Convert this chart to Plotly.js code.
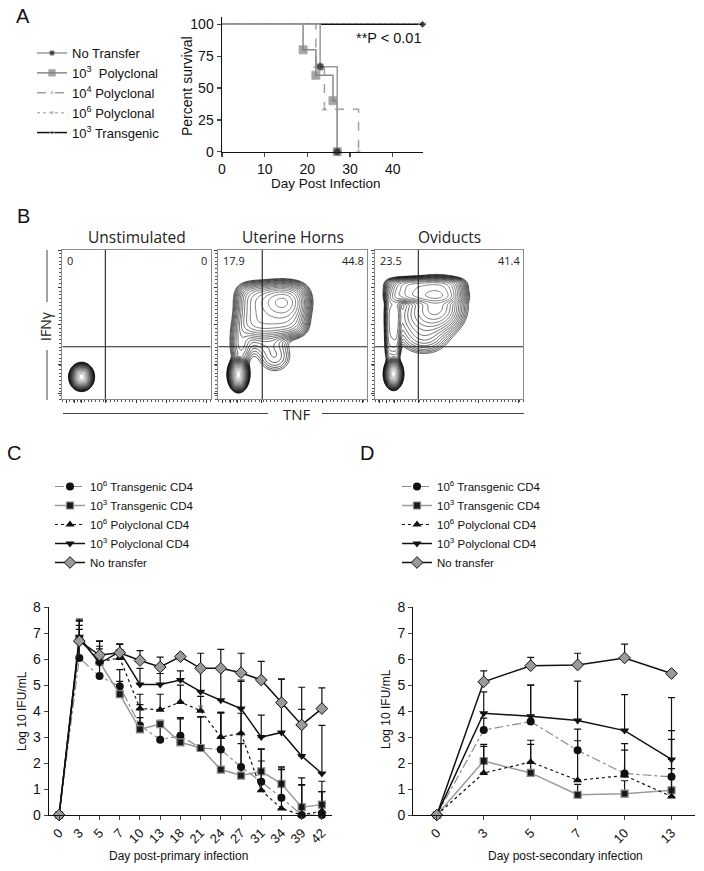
<!DOCTYPE html>
<html>
<head>
<meta charset="utf-8">
<script src="https://cdn.plot.ly/plotly-3.0.1.min.js"></script>
<style>html,body{margin:0;padding:0;background:#fff;}#chart{width:704px;height:871px;}</style>
</head>
<body>
<div id="chart"></div>
<script>
// ---------------- Panel A: survival ----------------
const survNoTransferDay = [0, 23, 27];
const survNoTransferPct = [100, 66.7, 0];
const survPoly3Day = [0, 19, 22, 26, 27];
const survPoly3Pct = [100, 80, 60, 40, 0];
const survPoly4Day = [0, 22, 24, 32];
const survPoly4Pct = [100, 66.7, 33.3, 0];
const survPoly6Day = [0, 47];
const survPoly6Pct = [100, 100];
const survTrans3Day = [0, 47];
const survTrans3Pct = [100, 100];
const survTicksX = [0, 10, 20, 30, 40];
const survTicksY = [0, 25, 50, 75, 100];

// ---------------- Panel B: flow cytometry ----------------
const flowTitles = ["Unstimulated", "Uterine Horns", "Oviducts"];
const flowQuadUL = ["0", "17.9", "23.5"];
const flowQuadUR = ["0", "44.8", "41.4"];
const flowQuadLL = ["100", "33.5", "33.1"];
const flowQuadLR = ["0", "3.71", "1.99"];
const flowGateX = [0.29, 0.295, 0.292];
const flowGateY = 0.352;
// density components: [centerX, centerY, sdX, sdY, weight, shapePower] on 0..1 axes
const flowUnstim = [[0.13, 0.15, 0.025, 0.028, 1.0, 2]];
const flowUterine = [
  [0.135, 0.165, 0.022, 0.035, 1.0, 2],
  [0.36, 0.6, 0.17, 0.13, 0.03, 4],
  [0.43, 0.65, 0.08, 0.06, 0.03, 2],
  [0.15, 0.36, 0.04, 0.1, 0.008, 2],
  [0.3, 0.42, 0.1, 0.07, 0.006, 2],
  [0.38, 0.28, 0.07, 0.065, 0.005, 2]
];
const flowOviduct = [
  [0.125, 0.17, 0.02, 0.032, 1.0, 2],
  [0.34, 0.73, 0.18, 0.06, 0.04, 4],
  [0.12, 0.5, 0.04, 0.19, 0.012, 4],
  [0.42, 0.62, 0.09, 0.09, 0.03, 2],
  [0.28, 0.55, 0.1, 0.1, 0.01, 2],
  [0.34, 0.4, 0.09, 0.06, 0.005, 2]
];

// ---------------- Panel C: primary infection ----------------
const dayPrimary = ["0","3","5","7","10","13","18","21","24","27","31","34","39","42"];
const c_trans6 = [0, 6.05, 5.35, 4.95, 3.45, 2.9, 3.05, 2.58, 2.52, 1.85, 1.28, 0.66, 0, 0];
const c_trans6Err = [0, 1.1, 0.9, 0.65, 0.8, 0.7, 0.7, 1.2, 1.4, 0.9, 0.8, 1.15, 1.17, 0.9];
const c_trans3 = [0, 6.75, 5.9, 4.65, 3.3, 3.5, 2.8, 2.58, 1.75, 1.52, 1.68, 1.2, 0.3, 0.4];
const c_trans3Err = [0, 0.75, 0.5, 0.5, 0.45, 0.15, 0.9, 1.2, 2.2, 2.4, 0.85, 0.65, 1.13, 0.9];
const c_poly6 = [0, 6.8, 5.9, 6.05, 4.1, 4.05, 4.35, 4.02, 3.0, 3.15, 0.95, 0.25, 0, 0.15];
const c_poly6Err = [0, 0.5, 0.6, 0.3, 0.55, 0.6, 0.65, 0.55, 0.95, 2.0, 1.6, 1.5, 1.15, 0.75];
const c_poly3 = [0, 6.87, 5.84, 6.29, 5.03, 5.03, 5.2, 4.75, 4.42, 4.1, 3.0, 3.18, 2.27, 1.6];
const c_poly3Err = [0, 0.6, 0.85, 0.3, 0.62, 0.42, 0.35, 0.95, 1.2, 1.1, 0.85, 2.05, 1.8, 1.85];
const c_noTrans = [0, 6.7, 6.16, 6.25, 5.95, 5.7, 6.1, 5.65, 5.65, 5.48, 5.2, 4.33, 3.47, 4.1];
const c_noTransErr = [0, 0.85, 0.55, 0.32, 0.38, 0.38, 0.12, 0.58, 0.73, 0.75, 0.72, 0.9, 1.45, 0.8];
const sigDay = ["7", "18", "21", "24", "27"];
const sigY = [4.1, 2.35, 2.0, 1.2, 1.05];
const sigText = ["*", "**", "**", "*", "**"];

// ---------------- Panel D: secondary infection ----------------
const daySecondary = ["0","3","5","7","10","13"];
const d_trans6 = [0, 3.27, 3.6, 2.49, 1.6, 1.47];
const d_trans6Err = [0, 0.46, 1.4, 0.82, 1.15, 1.78];
const d_trans3 = [0, 2.08, 1.62, 0.78, 0.82, 0.95];
const d_trans3Err = [0, 0.56, 1.1, 0.4, 0.5, 0.84];
const d_poly6 = [0, 1.62, 2.04, 1.34, 1.52, 0.71];
const d_poly6Err = [0, 1.1, 0.84, 1.52, 0.98, 2.2];
const d_poly3 = [0, 3.92, 3.8, 3.64, 3.25, 2.14];
const d_poly3Err = [0, 0.82, 1.2, 1.52, 1.39, 2.38];
const d_noTrans = [0, 5.13, 5.75, 5.78, 6.05, 5.45];
const d_noTransErr = [0, 0.42, 0.32, 0.45, 0.53, 0.11];
const logTicks = [0, 1, 2, 3, 4, 5, 6, 7, 8];

// ---------------- helpers ----------------
const W = 704, H = 871;
const hx = (a, b) => [a / W, b / W];
const vy = (top, bottom) => [1 - bottom / H, 1 - top / H];
const px = a => a / W;
const py = b => 1 - b / H;

function densityGrid(comps, n) {
  const g = [];
  for (let i = 0; i < n; i++) g.push(i / (n - 1));
  const z = [];
  for (let j = 0; j < n; j++) {
    const row = [];
    for (let i = 0; i < n; i++) {
      let d = 0;
      comps.forEach(c => {
        const ux = Math.abs((g[i] - c[0]) / c[2]), uy = Math.abs((g[j] - c[1]) / c[3]);
        d += c[4] * Math.exp(-0.5 * (Math.pow(ux, c[5]) + Math.pow(uy, c[5])));
      });
      row.push(Math.log10(d + 1e-9));
    }
    z.push(row);
  }
  return {g, z};
}

const FA = "Liberation Sans, Arial, sans-serif";
const FB = "Open Sans, Noto Sans, sans-serif";
const traces = [];

// Panel A traces
function sz(n, s) { const a = []; for (let i = 0; i < n; i++) a.push(i === 0 ? 0 : s); return a; }
traces.push({x: survPoly6Day, y: survPoly6Pct, type: 'scatter', mode: 'lines+markers', line: {shape: 'hv', color: '#b8b8b8', width: 1.5, dash: 'dot'},
  marker: {symbol: 'triangle-down', color: '#a8a8a8', size: sz(2, 7)}, name: '10<sup>6</sup> Polyclonal', legend: 'legend', legendrank: 4, xaxis: 'x', yaxis: 'y', cliponaxis: false});
traces.push({x: survTrans3Day, y: survTrans3Pct, type: 'scatter', mode: 'lines+markers', line: {shape: 'hv', color: '#111', width: 1.5},
  marker: {symbol: 'diamond', color: '#111', size: sz(2, 6)}, name: '10<sup>3</sup> Transgenic', legend: 'legend', legendrank: 5, xaxis: 'x', yaxis: 'y', cliponaxis: false});
traces.push({x: survPoly4Day, y: survPoly4Pct, type: 'scatter', mode: 'lines+markers', line: {shape: 'hv', color: '#a0a0a0', width: 1.5, dash: 'dash'},
  marker: {symbol: 'triangle-up', color: '#a0a0a0', size: sz(4, 7)}, name: '10<sup>4</sup> Polyclonal', legend: 'legend', legendrank: 3, xaxis: 'x', yaxis: 'y', cliponaxis: false});
traces.push({x: survPoly3Day, y: survPoly3Pct, type: 'scatter', mode: 'lines+markers', line: {shape: 'hv', color: '#8a8a8a', width: 1.5},
  marker: {symbol: 'square', color: '#7f7f7f', size: sz(5, 8)}, name: '10<sup>3</sup>  Polyclonal', legend: 'legend', legendrank: 2, xaxis: 'x', yaxis: 'y', cliponaxis: false});
traces.push({x: survNoTransferDay, y: survNoTransferPct, type: 'scatter', mode: 'lines+markers', line: {shape: 'hv', color: '#9a9a9a', width: 1.5},
  marker: {symbol: 'circle', color: '#111', size: sz(3, 8)}, name: 'No Transfer', legend: 'legend', legendrank: 1, xaxis: 'x', yaxis: 'y', cliponaxis: false});

// Panel B contour traces
const flowSets = [flowUnstim, flowUterine, flowOviduct];
flowSets.forEach((comps, k) => {
  const dg = densityGrid(comps, 130);
  traces.push({type: 'contour', x: dg.g, y: dg.g, z: dg.z, xaxis: 'x' + (k + 2), yaxis: 'y' + (k + 2),
    contours: {coloring: 'lines', start: -2.7, end: -0.05, size: 0.09}, line: {width: 0.65, smoothing: 1},
    colorscale: [[0, '#000'], [0.25, '#1a1a1a'], [0.55, '#444'], [0.8, '#777'], [1, '#aaa']], zmin: -2.7, zmax: 0,
    showscale: false, hoverinfo: 'skip', showlegend: false});
});

// Panel C & D traces
function seriesTrace(xs, vals, errs, spec, ax, legendName) {
  return {x: xs, y: vals, type: 'scatter', mode: 'lines+markers', name: spec.name, legend: legendName,
    xaxis: 'x' + ax, yaxis: 'y' + ax, cliponaxis: false,
    line: {color: spec.lc, width: spec.lw, dash: spec.dash},
    marker: {symbol: spec.sym, size: spec.ms, color: spec.mc, line: {color: spec.mlc, width: spec.mlw}},
    error_y: {type: 'data', symmetric: false, array: errs, arrayminus: errs.map(() => 0), color: '#111', thickness: 1.2, width: 3.5}};
}
const specs = [
  {name: '10<sup>6</sup> Transgenic CD4', lc: '#8c8c8c', lw: 1.2, dash: 'dashdot', sym: 'circle', ms: 8, mc: '#111', mlc: '#111', mlw: 0},
  {name: '10<sup>3</sup> Transgenic CD4', lc: '#9a9a9a', lw: 1.5, dash: 'solid', sym: 'square', ms: 7, mc: '#1a1a1a', mlc: '#8a8a8a', mlw: 1.2},
  {name: '10<sup>6</sup> Polyclonal CD4', lc: '#111', lw: 1.2, dash: 'dot', sym: 'triangle-up', ms: 8, mc: '#111', mlc: '#111', mlw: 0},
  {name: '10<sup>3</sup> Polyclonal CD4', lc: '#111', lw: 1.5, dash: 'solid', sym: 'triangle-down', ms: 8, mc: '#111', mlc: '#111', mlw: 0},
  {name: 'No transfer', lc: '#111', lw: 1.5, dash: 'solid', sym: 'diamond', ms: 9, mc: '#9a9a9a', mlc: '#111', mlw: 1}
];
const cVals = [[c_trans6, c_trans6Err], [c_trans3, c_trans3Err], [c_poly6, c_poly6Err], [c_poly3, c_poly3Err], [c_noTrans, c_noTransErr]];
const dVals = [[d_trans6, d_trans6Err], [d_trans3, d_trans3Err], [d_poly6, d_poly6Err], [d_poly3, d_poly3Err], [d_noTrans, d_noTransErr]];
cVals.forEach((v, i) => traces.push(seriesTrace(dayPrimary, v[0], v[1], specs[i], 5, 'legend2')));
dVals.forEach((v, i) => traces.push(seriesTrace(daySecondary, v[0], v[1], specs[i], 6, 'legend3')));

// ---------------- layout ----------------
const flowBoxes = [[62.3, 210.7], [218.3, 367.3], [375, 523.3]];
const flowTop = 250, flowBottom = 399.3;
const layout = {
  width: W, height: H, margin: {l: 0, r: 0, t: 0, b: 0}, paper_bgcolor: '#fff', plot_bgcolor: 'rgba(0,0,0,0)',
  font: {family: FA, color: '#111'},
  showlegend: true,
  legend: {x: px(32), y: py(38), xanchor: 'left', yanchor: 'top', font: {family: FA, size: 13, color: '#111'}, bgcolor: 'rgba(0,0,0,0)', itemwidth: 30, tracegroupgap: 0},
  legend2: {x: px(50), y: py(472), xanchor: 'left', yanchor: 'top', font: {family: FA, size: 11.5, color: '#111'}, bgcolor: 'rgba(0,0,0,0)', itemwidth: 30, traceorder: 'normal'},
  legend3: {x: px(397), y: py(472), xanchor: 'left', yanchor: 'top', font: {family: FA, size: 11.5, color: '#111'}, bgcolor: 'rgba(0,0,0,0)', itemwidth: 30, traceorder: 'normal'},
  xaxis: {domain: hx(222, 423), range: [0, 47.1], tickvals: survTicksX, ticks: 'outside', ticklen: 4, tickwidth: 1.3, showline: true, linecolor: '#111', linewidth: 1.5,
    showgrid: false, zeroline: false, tickfont: {size: 14, family: FA}, anchor: 'y'},
  yaxis: {domain: vy(17.3, 151.7), range: [0, 105.5], tickvals: survTicksY, ticks: 'outside', ticklen: 4, tickwidth: 1.3, showline: true, linecolor: '#111', linewidth: 1.5,
    showgrid: false, zeroline: false, tickfont: {size: 14, family: FA}, anchor: 'x'},
  xaxis5: {domain: hx(49, 332), range: [-0.5, 13.5], type: 'category', ticks: 'outside', ticklen: 4, showline: true, linecolor: '#111', linewidth: 1.3,
    showgrid: false, zeroline: false, tickangle: -45, tickfont: {size: 13, family: FA}, anchor: 'y5'},
  yaxis5: {domain: vy(607.3, 815), range: [0, 8], tickvals: logTicks, ticks: 'outside', ticklen: 4, showline: true, linecolor: '#111', linewidth: 1.3,
    showgrid: false, zeroline: false, tickfont: {size: 14, family: FA}, anchor: 'x5'},
  xaxis6: {domain: hx(413.3, 695), range: [-0.5, 5.5], type: 'category', ticks: 'outside', ticklen: 4, showline: true, linecolor: '#111', linewidth: 1.3,
    showgrid: false, zeroline: false, tickangle: -45, tickfont: {size: 13, family: FA}, anchor: 'y6'},
  yaxis6: {domain: vy(607.3, 815), range: [0, 8], tickvals: logTicks, ticks: 'outside', ticklen: 4, showline: true, linecolor: '#111', linewidth: 1.3,
    showgrid: false, zeroline: false, tickfont: {size: 14, family: FA}, anchor: 'x6'},
  shapes: [], annotations: []
};
function note(x, y, text, font, extra) {
  layout.annotations.push(Object.assign({xref: 'paper', yref: 'paper', x: px(x), y: py(y), text: text, showarrow: false,
    xanchor: 'center', yanchor: 'middle', font: font}, extra || {}));
}
flowBoxes.forEach((b, k) => {
  const n = k + 2;
  layout['xaxis' + n] = {domain: hx(b[0], b[1]), range: [0, 1], showticklabels: false, showgrid: false, zeroline: false, showline: true, mirror: true,
    linecolor: '#8a8a8a', linewidth: 1, ticks: 'outside', ticklen: 3, tickcolor: '#333', tickvals: [0.03, 0.08, 0.13, 0.29, 0.5, 0.7, 0.97],
    minor: {ticks: 'outside', ticklen: 2, dtick: 0.025, tickcolor: '#555'}, anchor: 'y' + n, fixedrange: true};
  layout['yaxis' + n] = {domain: vy(flowTop, flowBottom), range: [0, 1], showticklabels: false, showgrid: false, zeroline: false, showline: true, mirror: true,
    linecolor: '#8a8a8a', linewidth: 1, ticks: 'outside', ticklen: 3, tickcolor: '#333', tickvals: [0.04, 0.23, 0.5, 0.75, 0.995],
    minor: {ticks: 'outside', ticklen: 2, dtick: 0.025, tickcolor: '#555'}, anchor: 'x' + n, fixedrange: true};
  layout.shapes.push({type: 'line', xref: 'x' + n, yref: 'y' + n, x0: flowGateX[k], x1: flowGateX[k], y0: 0, y1: 1, line: {color: '#222', width: 1.1}});
  layout.shapes.push({type: 'line', xref: 'x' + n, yref: 'y' + n, x0: 0, x1: 1, y0: flowGateY, y1: flowGateY, line: {color: '#222', width: 1.1}});
  const qf = {family: FB, size: 11, color: '#222'};
  const q = (x, y, t, xa, ya) => layout.annotations.push({xref: 'x' + n, yref: 'y' + n, x: x, y: y, xanchor: xa, yanchor: ya, text: t, showarrow: false, font: qf});
  q(0.02, 0.995, flowQuadUL[k], 'left', 'top');
  q(0.99, 0.995, flowQuadUR[k], 'right', 'top');
  q(0.02, -0.01, flowQuadLL[k], 'left', 'bottom');
  q(0.99, -0.01, flowQuadLR[k], 'right', 'bottom');
  note((b[0] + b[1]) / 2, 237, flowTitles[k], {family: FB, size: 15.5, color: '#222'});
});
// IFNγ and TNF labels with guide lines
note(45, 326, 'IFNγ', {family: FB, size: 14, color: '#222'}, {textangle: -90});
note(296.5, 414, 'TNF', {family: FB, size: 15, color: '#222'});
[[47, 47, 250, 302], [47, 47, 350, 400], [63, 268, 413.5, 413.5], [322, 524, 413.5, 413.5]].forEach(s =>
  layout.shapes.push({type: 'line', xref: 'paper', yref: 'paper', x0: px(s[0]), x1: px(s[1]), y0: py(s[2]), y1: py(s[3]), line: {color: '#444', width: 1}}));
// panel letters
[['A', 23, 16], ['B', 23, 216], ['C', 14, 453], ['D', 367, 453]].forEach(l => note(l[1], l[2], l[0], {family: FA, size: 20, color: '#111'}));
// axis titles
note(187, 86, 'Percent survival', {family: FA, size: 14, color: '#111'}, {textangle: -90});
note(326, 183, 'Day Post Infection', {family: FA, size: 13.5, color: '#111'});
note(22, 711, 'Log 10 IFU/mL', {family: FA, size: 12, color: '#111'}, {textangle: -90});
note(178, 856, 'Day post-primary infection', {family: FA, size: 12, color: '#111'});
note(386, 709, 'Log 10 IFU/mL', {family: FA, size: 12, color: '#111'}, {textangle: -90});
note(565, 856, 'Day post-secondary infection', {family: FA, size: 12, color: '#111'});
// p-value
note(423, 38, '**P < 0.01', {family: FA, size: 14.5, color: '#111'}, {xanchor: 'right'});
// significance marks in C
sigDay.forEach((d, i) => layout.annotations.push({xref: 'x5', yref: 'y5', x: d, y: sigY[i], text: sigText[i], showarrow: false, font: {family: FA, size: 14, color: '#555'}}));

Plotly.newPlot('chart', traces, layout, {staticPlot: true, displayModeBar: false});
</script>
</body>
</html>
